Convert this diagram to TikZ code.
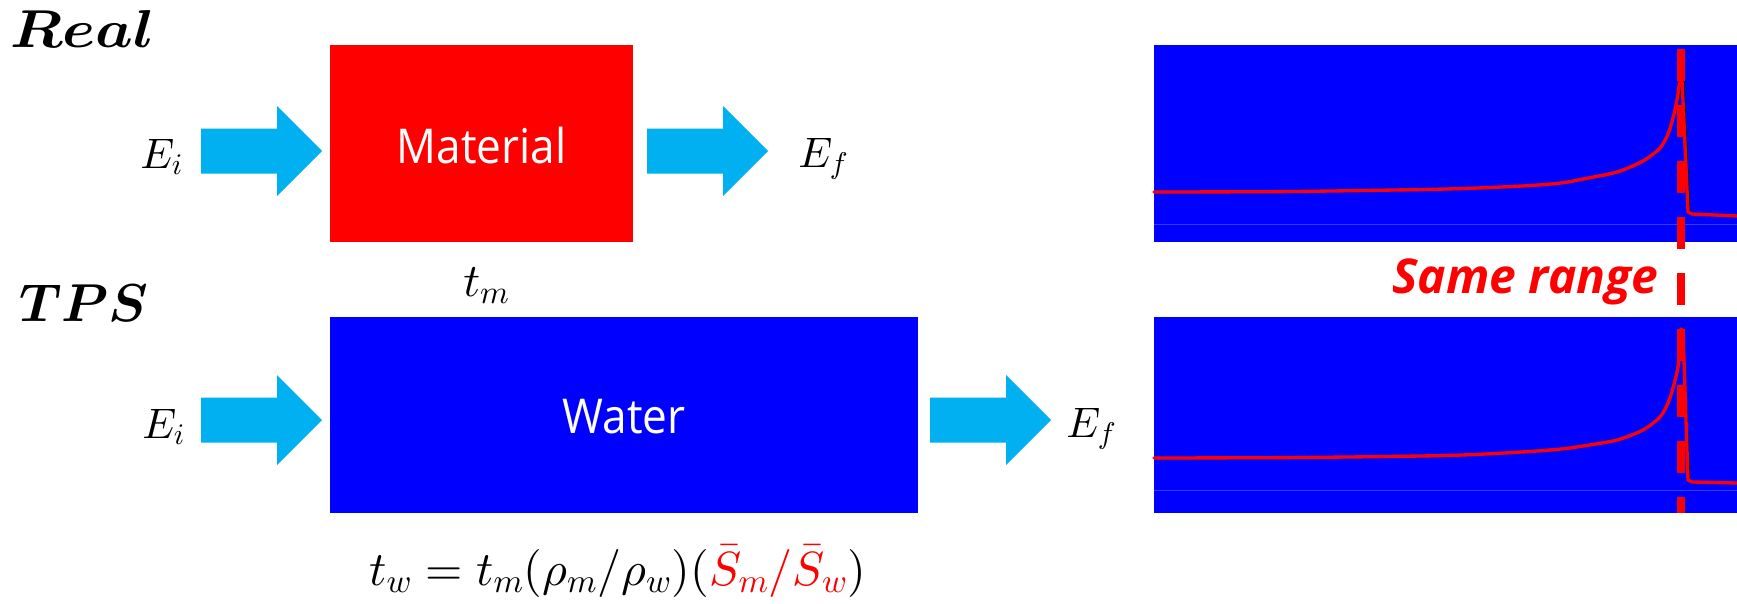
\documentclass[tikz,border=0pt]{standalone}
\usepackage{fontspec}
\usepackage{amsmath}
\DeclareFontShape{OT1}{cmr}{m}{n}{<->cmr10}{}
\DeclareFontShape{OT1}{cmr}{bx}{n}{<->cmbx10}{}
\DeclareFontShape{OML}{cmm}{m}{it}{<->cmmi10}{}
\DeclareFontShape{OML}{cmm}{b}{it}{<->cmmib10}{}
\DeclareFontShape{OMS}{cmsy}{m}{n}{<->cmsy10}{}
\DeclareFontShape{OMS}{cmsy}{b}{n}{<->cmbsy10}{}
\newfontfamily\boxfont{Open Sans}[FakeStretch=0.92]
\newfontfamily\rangefont{Open Sans}
\definecolor{arrowcyan}{HTML}{00B0F0}
\definecolor{pblue}{HTML}{0000FF}
\definecolor{pline}{HTML}{3A3AFF}
\tikzset{
  blockarrow/.pic={\fill[arrowcyan] (0,-22.5) -- (76,-22.5) -- (76,-45) -- (121,0) -- (76,45) -- (76,22.5) -- (0,22.5) -- cycle;},
  mathlbl/.style={inner sep=0pt, anchor=base west, font=\fontsize{32pt}{38pt}\selectfont},
  boxlbl/.style={inner sep=0pt, text=white, font=\boxfont\fontsize{36pt}{40pt}\selectfont},
  headlbl/.style={inner sep=0pt, anchor=base west, font=\fontsize{40pt}{44pt}\selectfont},
  curveline/.style={red, line width=2.5pt, line join=round, line cap=round},
  peakline/.style={black, line width=0.6pt},
}
\begin{document}
\begin{tikzpicture}[x=0.75pt,y=-0.75pt]
\useasboundingbox (0,0) rectangle (1737,603);
\clip (0,0) rectangle (1737,603);

% titles
\node[headlbl] (real) at (10,47) {\scalebox{1.12}[1]{$\boldsymbol{Real}$}};
\node[headlbl] (tps) at (19,321) {{$\boldsymbol{TPS}$}};

% boxes
\fill[red] (330,45) rectangle (633,242);
\node[boxlbl] (mat) at (481.5,145) {Material};
\fill[pblue] (330,317) rectangle (918,513);
\node[boxlbl] (wat) at (624,417) {Water};

% labels
\node[mathlbl] (ei1) at (140,168) {$E_i$};
\node[mathlbl] (ef1) at (798,167) {$E_f$};
\node[mathlbl, font=\fontsize{35pt}{40pt}\selectfont] (tm) at (463,296) {$t_m$};
\node[mathlbl] (ei2) at (142,438) {$E_i$};
\node[mathlbl] (ef2) at (1066,437) {$E_f$};
\node[mathlbl, font=\fontsize{36pt}{40pt}\selectfont] (formula) at (369,585) {$t_w = t_m(\rho_m/\rho_w)(\textcolor{red}{\bar{S}_m/\bar{S}_w})$};

% block arrows
\coordinate (a1) at (201,151);
\coordinate (a2) at (647,151);
\coordinate (a3) at (201,420);
\coordinate (a4) at (930,420);
\pic at (a1) {blockarrow};
\pic at (a2) {blockarrow};
\pic at (a3) {blockarrow};
\pic at (a4) {blockarrow};

% plots
\fill[pblue] (1154,45) rectangle (1737,242);
\draw[pline, line width=0.75pt] (1154,224) -- (1737,224);
\draw[peakline] (1676,110) -- (1684,79) -- (1690,212);
\draw[curveline] plot[smooth, tension=0.45] coordinates {(1154,192) (1293,191.5) (1446,189) (1522,186) (1561,183) (1583,179) (1617,172) (1643,161) (1660,148) (1668,134) (1673,118) (1677,100) (1679,86) (1681,76)}
  -- (1682,79) -- (1688,212) -- (1692,214) -- (1737,216);

\fill[pblue] (1154,317) rectangle (1737,513);
\draw[pline, line width=0.75pt] (1154,490) -- (1737,490);
\draw[peakline] (1677,360) -- (1683,328) -- (1690,480);
\draw[curveline] plot[smooth, tension=0.45] coordinates {(1154,458) (1300,457.5) (1446,455.5) (1522,452) (1561,449) (1583,446) (1617,440) (1643,430) (1660,417) (1668,403) (1673,388) (1678,367) (1680,345) (1681,329)}
  -- (1683,331) -- (1688,480) -- (1692,482) -- (1737,483);

% same range
\node[inner sep=0pt, anchor=base west, text=red, font=\rangefont\bfseries\itshape\fontsize{36pt}{40pt}\selectfont] (same) at (1392,293) {Same range};
\coordinate (dtop) at (1681,49);
\coordinate (dbot) at (1681,513);
\draw[red, line width=6pt, dash pattern=on 24pt off 18pt] (dtop) -- (dbot);
\end{tikzpicture}
\end{document}
